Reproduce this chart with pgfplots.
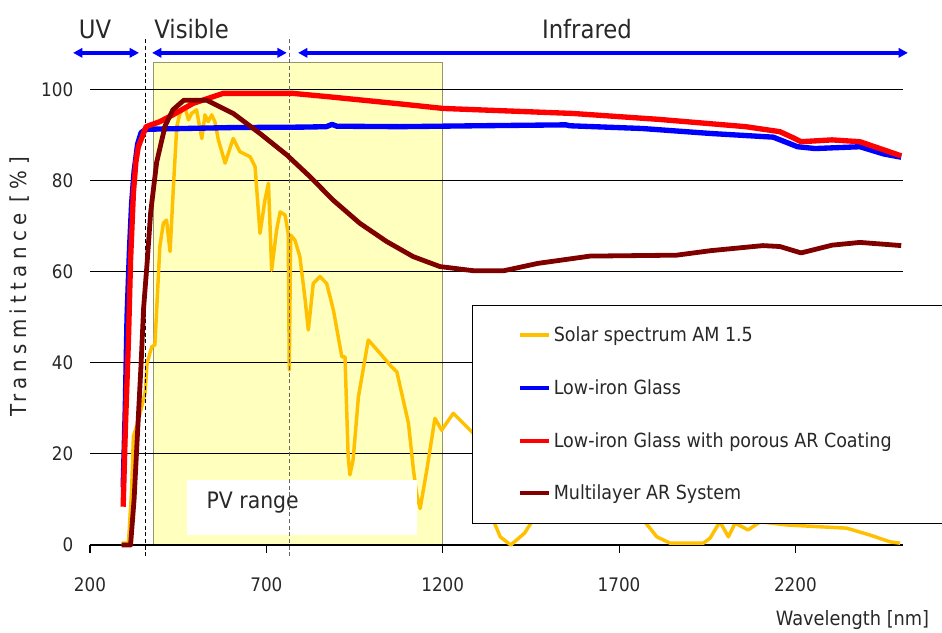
\documentclass[border=0pt]{standalone}
\usepackage{fontspec}
\setmainfont{DejaVu Sans Condensed}
\usepackage{pgfplots}
\pgfplotsset{compat=1.18}
\usetikzlibrary{arrows.meta}

\definecolor{solar}{RGB}{255,192,0}
\definecolor{lowiron}{RGB}{0,0,255}
\definecolor{arcoat}{RGB}{255,0,0}
\definecolor{multi}{RGB}{128,0,0}
\definecolor{pvfill}{RGB}{255,255,190}
\definecolor{pvedge}{RGB}{150,150,110}
\definecolor{txt}{RGB}{40,40,40}

\begin{document}
\begin{tikzpicture}
\begin{axis}[
  x=0.26453pt, y=3.4178pt,
  xmin=200, xmax=2505, ymin=0, ymax=100,
  clip=false, set layers,
  axis line style={draw=none},
  xtick={200,700,1200,1700,2200},
  ytick={0,20,40,60,80,100},
  xtick pos=bottom, tick align=outside, major tick length=6pt,
  xtick style={black, line width=0.8pt},
  ytick style={draw=none},
  ymajorgrids, grid style={black, line width=0.8pt},
  /pgf/number format/assume math mode=true,
  /pgf/number format/1000 sep={},
  tick label style={font=\fontsize{14}{16}\selectfont, text=txt},
  xticklabel style={yshift=-15pt},
  yticklabel style={xshift=-3pt},
  xlabel={Wavelength [nm]},
  xlabel style={at={(axis description cs:0.938,-0.1646)}, anchor=center,
    font=\fontsize{14.8}{17}\selectfont, text=txt},
  ylabel={\addfontfeature{LetterSpace=24}Transmittance [\%]},
  ylabel style={at={(axis description cs:-0.0861,0.566)}, anchor=center,
    font=\fontsize{16.5}{19}\selectfont, text=txt},
  legend cell align=left,
  legend style={at={(axis description cs:0.4698,0.527)}, anchor=north west,
    draw=black, line width=0.8pt, fill=white, font=\fontsize{14.6}{17}\selectfont,
    text=txt, inner xsep=34pt, inner ysep=14pt, row sep=23pt},
  legend image code/.code={\draw[#1, line width=3pt] (0pt,0pt) -- (22pt,0pt);},
]

\begin{pgfonlayer}{axis background}
\filldraw[fill=pvfill, draw=pvedge, line width=0.8pt]
  (axis cs:380,0) rectangle (axis cs:1200,105.9);
\end{pgfonlayer}

% solar spectrum AM 1.5
\addplot[solar, line width=2.6pt, line join=round] coordinates {
(290,0.4) (300,0.4) (309,0.4) (318,12.1) (323,23.8) (332,26) (342,28.9)
(356,33.3) (362,39.9) (375,43.5) (384,43.9) (389,51.6) (398,65.5) (408,70.6)
(417,71.3) (427,64.4) (436,77.9) (446,91.8) (455,94.7) (469,96.2) (479,93.3)
(488,94.7) (502,95.5) (517,89.2) (526,94.4) (535,92.9) (545,94.4) (554,92.9)
(564,88.9) (583,83.8) (606,89.2) (625,86.3) (654,85.2) (668,83.0) (682,68.4)
(696,75.7) (706,79.4) (715,60.3) (729,69.1) (739,73.1) (753,72.4) (762,68.4)
(765,38.4) (769,68) (781,66.9) (795,63.3) (810,53.8) (819,47.2) (833,57.4)
(852,58.9) (871,57.4) (890,51.6) (914,41.3) (923,41.3) (932,19.4) (937,15.4)
(946,18.7) (961,32.5) (989,45.0) (1022,42.1) (1055,39.1) (1070,38.0)
(1103,26.7) (1117,16.5) (1126,11.3) (1136,8.0) (1155,16.5) (1178,27.8)
(1197,25.2) (1230,28.9) (1287,24.5) (1320,14) (1343,5.5) (1363,1.8) (1393,0)
(1432,2.6) (1456,5.5) (1520,12) (1600,13) (1700,10) (1769,5.5) (1807,1.8)
(1845,0.4) (1939,0.4) (1958,1.5) (1986,5.1) (2010,1.8) (2029,4.8) (2066,3.3)
(2100,5.1) (2175,4.4) (2270,4.0) (2345,3.7) (2411,2.2) (2468,0.7) (2497,0.4)
};
\addlegendentry{Solar spectrum AM 1.5}

% PV range box and dashed borders
\fill[white] (axis cs:475,2.19) rectangle (axis cs:1127,14.26);
\node[anchor=west, font=\fontsize{17}{20}\selectfont, text=txt]
  at (axis cs:517.5,9.4) {PV range};
\draw[black, line width=1pt, dash pattern=on 3pt off 2pt]
  (axis cs:358,111) -- (axis cs:358,-2.4);
\draw[black!60, line width=1pt, dash pattern=on 3pt off 2pt]
  (axis cs:766,111) -- (axis cs:766,-2.4);

% low-iron glass
\addplot[lowiron, line width=4pt, line join=round] coordinates {
(294,12.7) (300,30) (305,50) (312,65) (318,75) (325,82) (335,88) (345,90.5)
(358,91.2) (400,91.3) (600,91.6) (800,91.7) (870,91.8) (886,92.3) (900,91.9)
(1079,91.8) (1300,92) (1550,92.2) (1560,92) (1765,91.4) (1961,90.3)
(2137,89.5) (2170,88.5) (2206,87.4) (2256,87.0) (2383,87.4) (2451,85.8)
(2500,85.1)
};
\addlegendentry{Low-iron Glass}

% low-iron glass with porous AR coating
\addplot[arcoat, line width=4pt, line join=round] coordinates {
(294,8.4) (300,25) (309,45) (315,62.5) (323,77.2) (330,84) (337,87.4)
(359,91.8) (398,92.9) (435,94.4) (492,96.9) (577,99.1) (776,99.1) (872,98.4)
(1014,97.3) (1079,96.8) (1201,95.8) (1569,94.7) (1813,93.4) (2059,91.8)
(2156,90.7) (2190,89.5) (2216,88.5) (2304,88.9) (2383,88.5) (2451,86.7)
(2500,85.4)
};
\addlegendentry{Low-iron Glass with porous AR Coating\hspace*{30pt}}

% multilayer AR system
\addplot[multi, line width=3.6pt, line join=round] coordinates {
(290,0) (315,0) (325,10) (335,25) (345,40) (352,52) (362,62) (372,73)
(389,84) (413,92) (435,95.5) (466,97.6) (531,97.6) (606,94.7) (682,90.3)
(758,85.6) (824,80.8) (889,75.7) (965,70.6) (1041,66.6) (1116,63.3)
(1192,61.1) (1286,60.2) (1374,60.2) (1470,61.8) (1618,63.4) (1863,63.6)
(1961,64.6) (2108,65.7) (2156,65.5) (2216,64.1) (2304,65.8) (2383,66.4)
(2451,66.0) (2500,65.7)
};
\addlegendentry{Multilayer AR System}

% spectral regions
\draw[lowiron, line width=2.5pt,
  {Triangle[length=7pt,width=7pt]}-{Triangle[length=7pt,width=7pt]}]
  (axis cs:152,108) -- (axis cs:339,108);
\draw[lowiron, line width=2.5pt,
  {Triangle[length=7pt,width=7pt]}-{Triangle[length=7pt,width=7pt]}]
  (axis cs:376,108) -- (axis cs:758,108);
\draw[lowiron, line width=2.5pt,
  {Triangle[length=7pt,width=7pt]}-{Triangle[length=7pt,width=7pt]}]
  (axis cs:790,108) -- (axis cs:2519,108);
\node[font=\fontsize{19}{22}\selectfont, text=txt] at (axis cs:214,113.2) {UV};
\node[font=\fontsize{19}{22}\selectfont, text=txt] at (axis cs:488,113.2) {Visible};
\node[font=\fontsize{19}{22}\selectfont, text=txt] at (axis cs:1609,113.2) {Infrared};

\coordinate (bbl) at (axis cs:-55.2,-19.31);
\coordinate (btr) at (axis cs:2615.7,119.6);
\end{axis}
\pgfresetboundingbox
\useasboundingbox (bbl) rectangle (btr);
\end{tikzpicture}
\end{document}
